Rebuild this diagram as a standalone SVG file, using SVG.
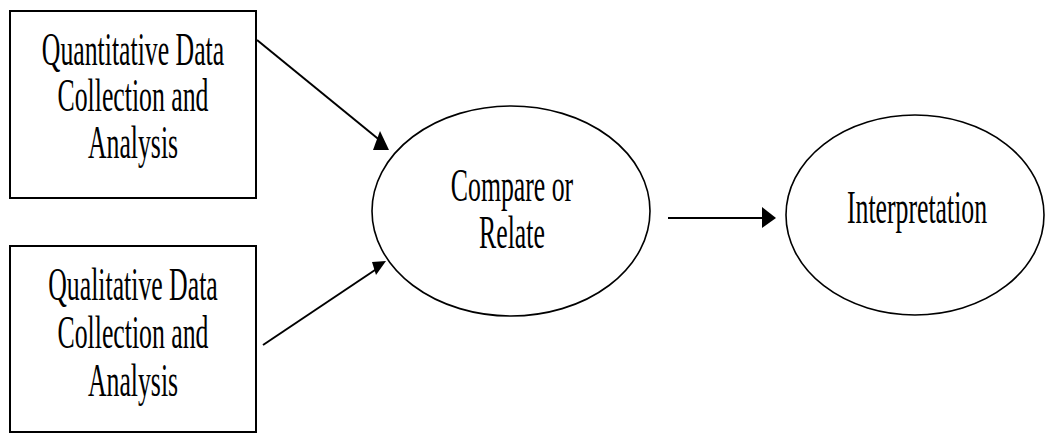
<svg xmlns="http://www.w3.org/2000/svg" width="1045" height="433" viewBox="0 0 1045 433">
  <style>
    .box { fill: #ffffff; stroke: #000000; stroke-width: 2; }
    .oval { fill: #ffffff; stroke: #000000; stroke-width: 1.6; }
    .lbl { font-family: "Liberation Serif", "Times New Roman", serif; font-size: 46px; fill: #000000; text-anchor: middle; }
    .conn { stroke: #000000; stroke-width: 2; fill: none; }
    .head { fill: #000000; stroke: none; }
  </style>
  <rect width="1045" height="433" fill="#ffffff"/>

  <g id="node-quantitative">
    <rect class="box" x="10" y="11" width="246" height="187"/>
    <g transform="translate(133 0) scale(0.56 1)">
      <text class="lbl" x="0" y="65">Quantitative Data</text>
      <text class="lbl" x="0" y="111">Collection and</text>
      <text class="lbl" x="0" y="158">Analysis</text>
    </g>
  </g>

  <g id="node-qualitative">
    <rect class="box" x="10" y="246" width="246" height="186"/>
    <g transform="translate(133 0) scale(0.56 1)">
      <text class="lbl" x="0" y="300">Qualitative Data</text>
      <text class="lbl" x="0" y="348">Collection and</text>
      <text class="lbl" x="0" y="396">Analysis</text>
    </g>
  </g>

  <g id="node-compare">
    <ellipse class="oval" cx="511" cy="211" rx="139" ry="105"/>
    <g transform="translate(512 0) scale(0.56 1)">
      <text class="lbl" x="0" y="201">Compare or</text>
      <text class="lbl" x="0" y="248">Relate</text>
    </g>
  </g>

  <g id="node-interpretation">
    <ellipse class="oval" cx="915" cy="215" rx="129" ry="100"/>
    <g transform="translate(917 0) scale(0.56 1)">
      <text class="lbl" x="0" y="223">Interpretation</text>
    </g>
  </g>

  <g id="connectors">
    <line class="conn" x1="257" y1="40" x2="382" y2="142"/>
    <polygon class="head" points="380,131 373,150 389,150"/>
    <line class="conn" x1="263" y1="345" x2="378" y2="268"/>
    <polygon class="head" points="372,262 386,261 376,275"/>
    <line class="conn" x1="668" y1="218" x2="764" y2="218"/>
    <polygon class="head" points="762,207 776,218 762,228"/>
  </g>
</svg>
